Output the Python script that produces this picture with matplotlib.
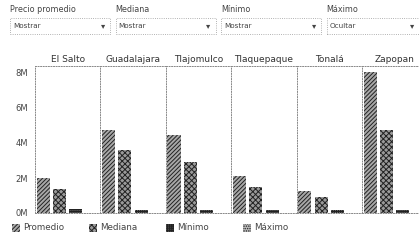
import matplotlib.pyplot as plt
from matplotlib.patches import Rectangle

municipios = ['El Salto', 'Guadalajara', 'Tlajomulco', 'Tlaquepaque', 'Tonalá', 'Zapopan']
series = ['Promedio', 'Mediana', 'Mínimo', 'Máximo']
promedio = [2.0, 4.75, 4.45, 2.1, 1.25, 8.05]   # millones
mediana = [1.4, 3.6, 2.9, 1.5, 0.9, 4.75]
minimo = [0.22, 0.2, 0.2, 0.2, 0.2, 0.2]
maximo = None  # oculto en el control ("Ocultar")

controles = ['Precio promedio', 'Mediana', 'Mínimo', 'Máximo']
estado = ['Mostrar', 'Mostrar', 'Mostrar', 'Ocultar']

y_ticks = [0, 2, 4, 6, 8]

plt.rcParams['hatch.linewidth'] = 0.7
plt.rcParams['hatch.color'] = '#222222'

hatches = {'Promedio': '////////', 'Mediana': 'xxxxxx', 'Mínimo': '++++++++', 'Máximo': '.......'}
caras = {'Promedio': '#a8a8a8', 'Mediana': '#9a9a9a', 'Mínimo': '#666666', 'Máximo': '#bbbbbb'}
gris = '#444444'

W, H = 419, 240
fig = plt.figure(figsize=(W / 100, H / 100), dpi=100)

def fx(px):
    return px / W

def fy(py):
    return 1 - py / H

# controles de arriba
for i, (lab, st) in enumerate(zip(controles, estado)):
    x0 = 10 + i * 105.5
    fig.text(fx(x0), fy(10), lab, fontsize=5.8, color=gris, va='center')
    fig.add_artist(Rectangle((fx(x0), fy(34)), fx(100), 16 / H, transform=fig.transFigure,
                             fill=False, ec='#999999', lw=0.6, ls=':'))
    fig.text(fx(x0 + 3), fy(26), st, fontsize=5.2, color=gris, va='center')
    ax_ = min(x0 + 93, 412)
    fig.text(fx(ax_), fy(26), '▾', fontsize=6, color=gris, va='center', ha='center')

# paneles
top, bottom = 66, 213
step = 65.4
for i, m in enumerate(municipios):
    ax = fig.add_axes([fx(35 + i * step), fy(bottom), fx(step), (bottom - top) / H])
    vals = [promedio[i], mediana[i], minimo[i]]
    for j, v in enumerate(vals):
        s = series[j]
        ax.bar(j, v, width=0.8, color=caras[s], edgecolor='#222222', lw=0, hatch=hatches[s])
    ax.set_xlim(-0.5, 3.5)
    ax.set_ylim(0, 8.4)
    ax.set_xticks([])
    ax.set_yticks(y_ticks)
    if i == 0:
        ax.set_yticklabels([f'{t}M' for t in y_ticks], fontsize=6, color=gris)
    else:
        ax.set_yticklabels([])
    ax.tick_params(axis='y', length=0, pad=5)
    for sp in ['left', 'top', 'bottom']:
        ax.spines[sp].set_linestyle(':')
        ax.spines[sp].set_color('#888888')
        ax.spines[sp].set_linewidth(0.7)
    ax.spines['right'].set_visible(False)
    ax.set_title(m, fontsize=6.5, color='#333333', pad=3)
    ax.patch.set_alpha(0)

# leyenda
for k, s in enumerate(series):
    x0 = 12 + k * 77
    fig.add_artist(Rectangle((fx(x0), fy(232)), fx(8), 8 / H, transform=fig.transFigure,
                             fc=caras[s], ec='#222222', lw=0, hatch=hatches[s]))
    fig.text(fx(x0 + 11), fy(228), s, fontsize=6.3, color=gris, va='center')

fig.savefig('out.png', dpi=100)
